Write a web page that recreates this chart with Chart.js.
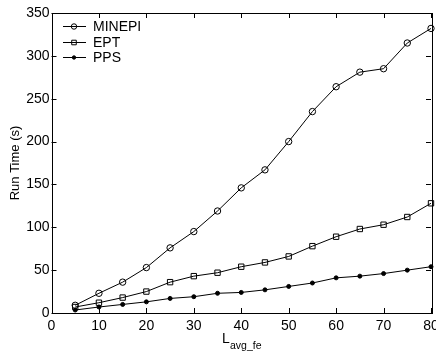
<!DOCTYPE html>
<html>
<head>
<meta charset="utf-8">
<script src="https://cdn.jsdelivr.net/npm/chart.js@4/dist/chart.umd.min.js"></script>
<style>
  html, body { margin: 0; padding: 0; background: #fff; }
  #wrap { width: 436px; height: 354px; position: relative; }
</style>
</head>
<body>
<div id="wrap"><canvas id="c"></canvas></div>
<script>
/* data */
const xs      = [5, 10, 15, 20, 25, 30, 35, 40, 45, 50, 55, 60, 65, 70, 75, 80];
const minepi  = [9, 23, 36, 53, 76, 95, 119, 146, 167, 200, 235, 264, 281, 285, 315, 332];
const ept     = [7, 12, 18, 25, 36, 43, 47, 54, 59, 66, 78, 89, 98, 103, 112, 128];
const pps     = [3.5, 7, 10, 13, 17, 19, 23, 24, 27, 31, 35, 41, 43, 46, 50, 54];
const xTicks  = [0, 10, 20, 30, 40, 50, 60, 70, 80];
const yTicks  = [0, 50, 100, 150, 200, 250, 300, 350];
const seriesNames = ['MINEPI', 'EPT', 'PPS'];

const FONT = '"Liberation Sans", Arial, Helvetica, sans-serif';

const pts = arr => arr.map((v, i) => ({ x: xs[i], y: v }));

/* box + inward ticks on all four sides, legend, x title with subscript */
const matlabFrame = {
  id: 'matlabFrame',
  afterDraw(chart) {
    const { ctx, chartArea: a, scales: { x, y } } = chart;
    ctx.save();
    ctx.strokeStyle = '#000';
    ctx.lineWidth = 1;
    ctx.strokeRect(Math.round(a.left) + 0.5, Math.round(a.top) + 0.5,
                   Math.round(a.right - a.left), Math.round(a.bottom - a.top));
    const tl = 5;
    ctx.beginPath();
    xTicks.forEach(v => {
      const px = Math.round(x.getPixelForValue(v)) + 0.5;
      ctx.moveTo(px, a.bottom); ctx.lineTo(px, a.bottom - tl);
      ctx.moveTo(px, a.top);    ctx.lineTo(px, a.top + tl);
    });
    yTicks.forEach(v => {
      const py = Math.round(y.getPixelForValue(v)) + 0.5;
      ctx.moveTo(a.left, py);  ctx.lineTo(a.left + tl, py);
      ctx.moveTo(a.right, py); ctx.lineTo(a.right - tl, py);
    });
    ctx.stroke();

    /* legend */
    chart.data.datasets.forEach((ds, i) => {
      const ly = Math.round(26 + i * 15.7) + 0.5;
      ctx.strokeStyle = '#000';
      ctx.beginPath();
      ctx.moveTo(63, ly); ctx.lineTo(86, ly);
      ctx.stroke();
      ctx.fillStyle = ds.pointBackgroundColor;
      Chart.helpers.drawPoint(ctx, {
        pointStyle: ds.pointStyle, radius: ds.pointRadius * 0.85, rotation: 0, borderWidth: 1
      }, 74, ly);
      ctx.fillStyle = '#000';
      ctx.font = '14px ' + FONT;
      ctx.textBaseline = 'middle';
      ctx.fillText(seriesNames[i], 93, ly + 0.5);
    });

    /* x title: L with subscript */
    ctx.fillStyle = '#000';
    ctx.textBaseline = 'alphabetic';
    ctx.font = '14px ' + FONT;
    ctx.fillText('L', 222, 343);
    ctx.font = '10.5px ' + FONT;
    ctx.fillText('avg_fe', 230, 349);
    ctx.restore();
  }
};

new Chart(document.getElementById('c'), {
  type: 'line',
  data: {
    datasets: [
      { label: seriesNames[0], data: pts(minepi), borderColor: '#000', borderWidth: 1,
        pointStyle: 'circle', pointRadius: 3.2, pointBorderColor: '#000',
        pointBackgroundColor: 'rgba(0,0,0,0)', pointBorderWidth: 1, clip: false },
      { label: seriesNames[1], data: pts(ept), borderColor: '#000', borderWidth: 1,
        pointStyle: 'rect', pointRadius: 3.8, pointBorderColor: '#000',
        pointBackgroundColor: 'rgba(0,0,0,0)', pointBorderWidth: 1, clip: false },
      { label: seriesNames[2], data: pts(pps), borderColor: '#000', borderWidth: 1,
        pointStyle: 'circle', pointRadius: 2, pointBorderColor: '#000',
        pointBackgroundColor: '#000', pointBorderWidth: 1, clip: false }
    ]
  },
  options: {
    responsive: true,
    maintainAspectRatio: false,
    animation: false,
    layout: { padding: { top: 13, right: 4.5, left: 0, bottom: 0 } },
    plugins: { legend: { display: false }, tooltip: { enabled: false } },
    elements: { line: { tension: 0 } },
    scales: {
      x: {
        type: 'linear', min: 0, max: 80,
        afterBuildTicks: s => { s.ticks = xTicks.map(v => ({ value: v })); },
        afterFit: s => { s.height = 41; s.paddingLeft = 0; s.paddingRight = 0; },
        grid: { display: false, drawTicks: false },
        border: { display: false },
        ticks: { color: '#000', font: { family: FONT, size: 14 }, padding: 5, maxRotation: 0 }
      },
      y: {
        type: 'linear', min: 0, max: 350,
        afterBuildTicks: s => { s.ticks = yTicks.map(v => ({ value: v })); },
        afterFit: s => { s.width = 51.5; s.paddingTop = 0; s.paddingBottom = 0; },
        grid: { display: false, drawTicks: false },
        border: { display: false },
        title: { display: true, text: 'Run Time (s)', color: '#000',
                 font: { family: FONT, size: 13 }, padding: { top: 8, bottom: 5 } },
        ticks: { color: '#000', font: { family: FONT, size: 14 }, padding: 2 }
      }
    }
  },
  plugins: [matlabFrame]
});
</script>
</body>
</html>
